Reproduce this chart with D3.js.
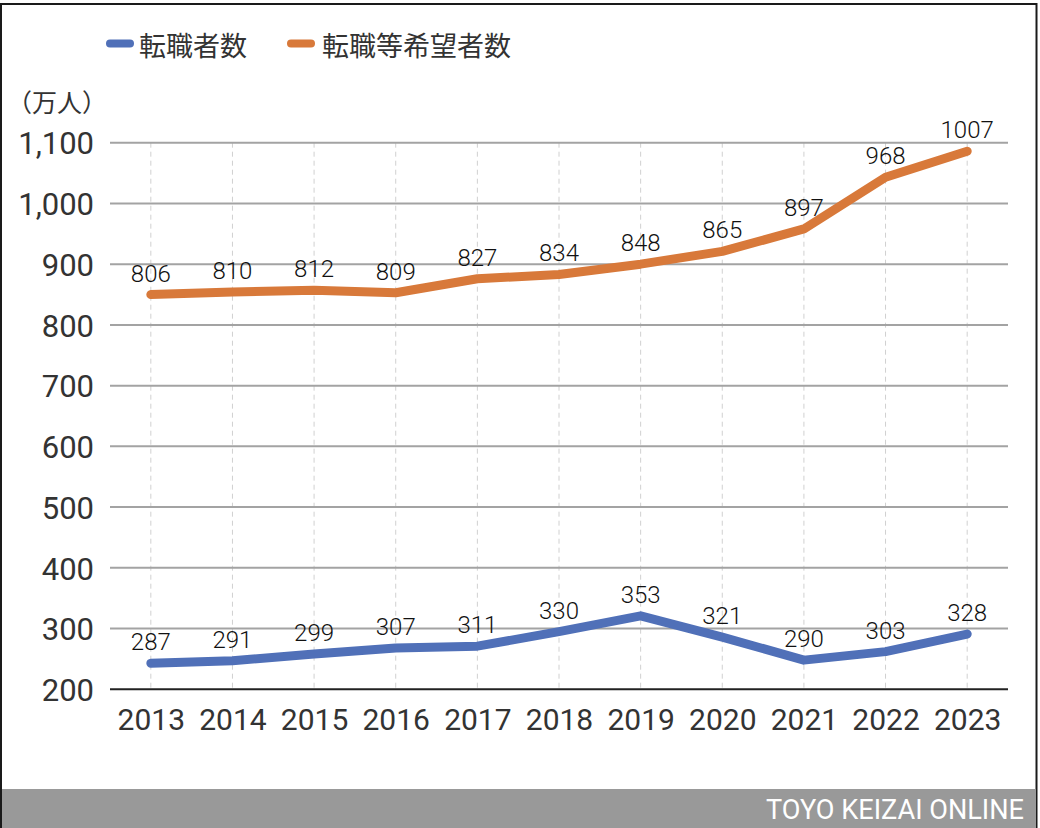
<!DOCTYPE html>
<html><head><meta charset="utf-8">
<script src="https://cdn.jsdelivr.net/npm/d3@7"></script>
<style>html,body{margin:0;padding:0;background:#fff;}svg{display:block;}</style>
</head><body>
<svg id="chart" width="1040" height="828"></svg>
<script>
const years = ['2013','2014','2015','2016','2017','2018','2019','2020','2021','2022','2023'];
const seriesNames = ['転職者数','転職等希望者数'];
// plotted positions (in axis units)
const transfers = [243,247,258,268,271,295,321,286,248,262,291];
const hopefuls  = [850,854,857,853,876,883,900,921,958,1043,1086];
// data labels as printed in the picture
const transferLabels = ['287','291','299','307','311','330','353','321','290','303','328'];
const hopefulLabels  = ['806','810','812','809','827','834','848','865','897','968','1007'];
const yTicks = [200,300,400,500,600,700,800,900,1000,1100];
const unitLabel = '（万人）';
const sourceLabel = 'TOYO KEIZAI ONLINE';
const colors = ['#5070b8','#d8793a'];

const svg = d3.select('#chart');
const W = 1040, H = 828;
const plot = {left:110, right:1008, top:142.7, bottom:689.3};

const x = d3.scalePoint().domain(years).range([plot.left, plot.right]).padding(0.5);
const y = d3.scaleLinear().domain([200,1100]).range([plot.bottom, plot.top]);

// frame
svg.append('rect').attr('x',0).attr('y',0).attr('width',W).attr('height',H).attr('fill','#fff');
svg.append('rect').attr('x',1).attr('y',4).attr('width',1035.5).attr('height',H+10)
  .attr('fill','none').attr('stroke','#1a1a1a').attr('stroke-width',2);

// vertical dashed gridlines
svg.append('g').selectAll('line').data(years).join('line')
  .attr('x1',d=>x(d)).attr('x2',d=>x(d))
  .attr('y1',plot.top).attr('y2',plot.bottom)
  .attr('stroke','#d0d0d0').attr('stroke-width',1).attr('stroke-dasharray','5,4');

// horizontal gridlines
const yAxis = d3.axisLeft(y).tickValues(yTicks).tickFormat(d3.format(',')).tickSize(0).tickPadding(16);
const gy = svg.append('g').attr('transform',`translate(${plot.left},0)`).call(yAxis);
gy.select('.domain').remove();
gy.selectAll('text').attr('font-family','Roboto, sans-serif').attr('font-size',31).attr('fill','#333').attr('dy','0.36em');
svg.append('g').selectAll('line').data(yTicks.filter(d=>d>200)).join('line')
  .attr('x1',plot.left).attr('x2',plot.right).attr('y1',d=>y(d)).attr('y2',d=>y(d))
  .attr('stroke','#a3a3a3').attr('stroke-width',2);
// baseline axis
svg.append('line').attr('x1',plot.left).attr('x2',plot.right).attr('y1',y(200)).attr('y2',y(200))
  .attr('stroke','#222').attr('stroke-width',2);

// x axis labels
const xAxis = d3.axisBottom(x).tickSize(0).tickPadding(19);
const gx = svg.append('g').attr('transform',`translate(0,${plot.bottom})`).call(xAxis);
gx.select('.domain').remove();
gx.selectAll('text').attr('font-family','Roboto, sans-serif').attr('font-size',30).attr('fill','#333');

// lines
const line = d3.line().x((d,i)=>x(years[i])).y(d=>y(d));
[transfers, hopefuls].forEach((s,k)=>{
  svg.append('path').datum(s).attr('d',line).attr('fill','none')
    .attr('stroke',colors[k]).attr('stroke-width',9)
    .attr('stroke-linecap','round').attr('stroke-linejoin','round');
});

// data labels
[[transfers,transferLabels],[hopefuls,hopefulLabels]].forEach(([s,labs])=>{
  svg.append('g').selectAll('text').data(s).join('text')
    .attr('x',(d,i)=>x(years[i])).attr('y',d=>y(d)-13)
    .attr('text-anchor','middle').attr('font-family','Roboto, sans-serif')
    .attr('font-size',24).attr('font-weight',300).attr('fill','#111')
    .text((d,i)=>labs[i]);
});

// unit label
svg.append('text').attr('x',7).attr('y',101).attr('dominant-baseline','central')
  .attr('font-family','"Noto Sans CJK JP", sans-serif').attr('font-size',25).attr('fill','#333')
  .text(unitLabel);

// legend
const legendPos = [{mx:110, tx:139},{mx:291, tx:322}];
seriesNames.forEach((n,k)=>{
  const p = legendPos[k];
  svg.append('line').attr('x1',p.mx).attr('x2',p.mx+20).attr('y1',43.5).attr('y2',43.5)
    .attr('stroke',colors[k]).attr('stroke-width',8).attr('stroke-linecap','round');
  svg.append('text').attr('x',p.tx).attr('y',44).attr('dominant-baseline','central')
    .attr('font-family','"Noto Sans CJK JP", sans-serif').attr('font-size',27).attr('fill','#333')
    .text(n);
});

// footer
svg.append('rect').attr('x',2).attr('y',789).attr('width',1034).attr('height',H-789).attr('fill','#999');
svg.append('text').attr('x',1024).attr('y',819).attr('text-anchor','end')
  .attr('font-family','Roboto, sans-serif').attr('font-size',28).attr('fill','#fff')
  .attr('textLength',258).attr('lengthAdjust','spacingAndGlyphs')
  .text(sourceLabel);
</script>
</body></html>
